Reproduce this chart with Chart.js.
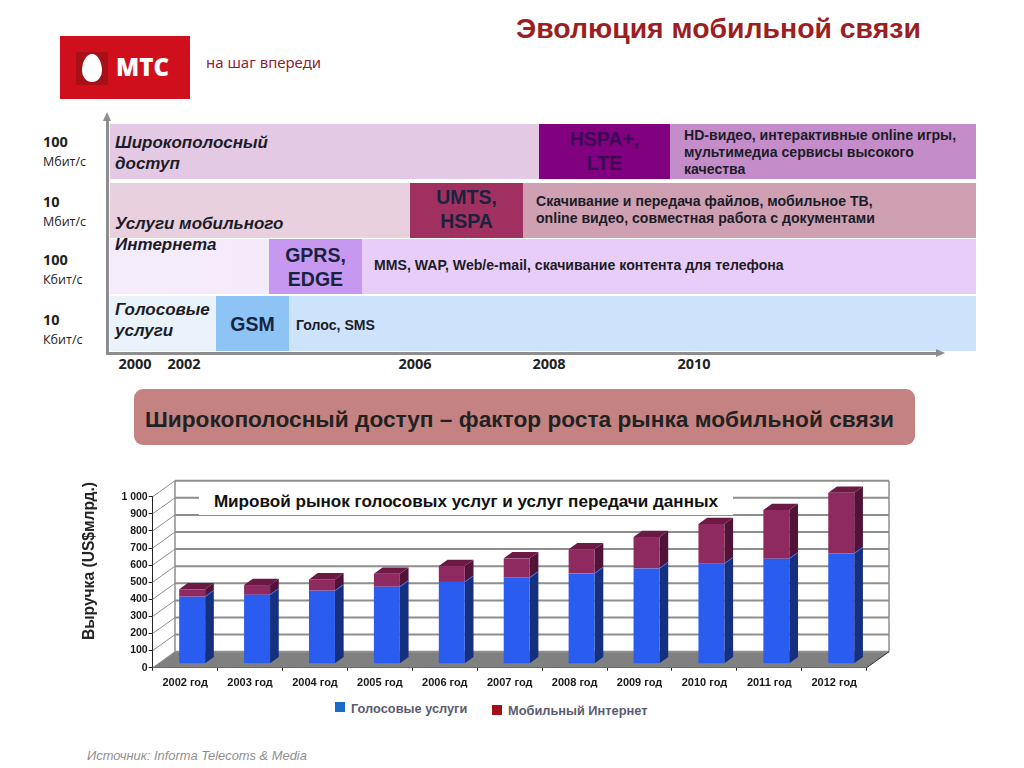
<!DOCTYPE html>
<html lang="ru">
<head>
<meta charset="utf-8">
<title>Эволюция мобильной связи</title>
<script src="https://cdn.jsdelivr.net/npm/chart.js@4"></script>
<style>
html,body{margin:0;padding:0;background:#fff;width:1024px;height:768px;overflow:hidden;}
body{position:relative;font-family:"Liberation Sans",Arial,sans-serif;color:#17233f;}
.abs{position:absolute;white-space:nowrap;}
#title{left:516px;top:12px;font-size:28.4px;font-weight:bold;color:#9b1f1f;line-height:32px;}
#logo{left:60px;top:36px;width:130px;height:63px;background:#cf0f1c;}
#logoSq{left:76px;top:52px;width:32px;height:33px;background:#a81018;}
#egg{left:82px;top:54px;width:20px;height:28px;background:#fff;border-radius:50% 50% 50% 50% / 60% 60% 40% 40%;}
#logoTxt{left:116px;top:53px;font-size:24px;line-height:28px;font-weight:800;color:#fff;font-family:"Open Sans";}
#slogan{left:206px;top:52px;font-size:15px;line-height:20px;color:#8f1f35;font-family:"Noto Sans";}
.row{position:absolute;left:110px;width:866px;}
#r0{top:124px;height:55px;background:#e3c9e3;}
#r1{top:183px;height:55px;background:#e8d0de;}
#r2{top:239px;height:55px;background:linear-gradient(90deg,#f5ecfb,#efe2f9);}
#r3{top:296px;height:55px;background:linear-gradient(90deg,#eaf3fb,#e3effa);}
.box{position:absolute;text-align:center;font-weight:bold;font-size:19.5px;line-height:24px;color:#17233f;box-sizing:border-box;white-space:pre-line;}
.fill{position:absolute;}
.desc{position:absolute;font-weight:bold;font-size:14.1px;line-height:17px;color:#1c1c28;white-space:pre-line;}
.svc{position:absolute;left:115px;font-weight:bold;font-style:italic;font-size:17px;line-height:21px;color:#1c1c28;white-space:pre-line;}
.spd{position:absolute;left:43px;font-family:"Open Sans";font-size:12.5px;line-height:19px;color:#222;white-space:pre-line;}
.spd b{font-size:14.5px;}
.yr{position:absolute;top:354px;font-family:"Open Sans";font-weight:bold;font-size:14.5px;line-height:19px;color:#222;transform:translateX(-50%);}
#axV{left:106px;top:120px;width:3px;height:234px;background:#8d8d8d;}
#axH{left:106px;top:352px;width:832px;height:3px;background:#8d8d8d;}
#arU{left:103px;top:112px;border-left:4.5px solid transparent;border-right:4.5px solid transparent;border-bottom:9px solid #8d8d8d;}
#arR{left:936px;top:349px;border-top:4.5px solid transparent;border-bottom:4.5px solid transparent;border-left:9px solid #8d8d8d;}
#banner{left:134px;top:389px;width:781px;height:56px;border-radius:9px;background:#c58282;}
#bannerTxt{left:145px;top:405px;font-size:22.7px;line-height:28px;font-weight:bold;color:#222;}
#chartBox{position:absolute;left:70px;top:470px;width:830px;height:230px;}
#chartTitle{left:199px;top:489px;width:534px;height:26px;background:#fff;text-align:center;font-size:17.1px;line-height:25px;font-weight:bold;color:#111;}
#yTitle{left:89px;top:561px;font-size:15.6px;font-weight:bold;color:#222;transform:translate(-50%,-50%) rotate(-90deg);}
.lg{position:absolute;width:10px;height:10px;}
.lgT{position:absolute;font-size:12.8px;line-height:15px;font-weight:bold;color:#5b5b70;}
#source{left:87px;top:748px;font-size:12.9px;line-height:16px;font-style:italic;color:#8f8f8f;}
</style>
</head>
<body>
<div id="title" class="abs"></div>

<div id="logo" class="abs"></div>
<div id="logoSq" class="abs"></div>
<div id="egg" class="abs"></div>
<div id="logoTxt" class="abs">МТС</div>
<div id="slogan" class="abs">на шаг впереди</div>

<div class="row" id="r0"></div>
<div class="row" id="r1"></div>
<div class="row" id="r2"></div>
<div class="row" id="r3"></div>

<div class="fill" style="left:670px;top:124px;width:306px;height:55px;background:#c48cc8"></div>
<div class="fill" style="left:523px;top:183px;width:453px;height:55px;background:#cfa0b2"></div>
<div class="fill" style="left:362px;top:239px;width:614px;height:55px;background:#e8cdf8"></div>
<div class="fill" style="left:289px;top:296px;width:687px;height:55px;background:#cce3fb"></div>

<div class="box" id="t0" style="left:539px;top:124px;width:131px;height:55px;background:#800080;color:#3b0a52;padding-top:3px"></div>
<div class="box" id="t1" style="left:410px;top:183px;width:113px;height:55px;background:#a0305f;padding-top:2px"></div>
<div class="box" id="t2" style="left:269px;top:239px;width:93px;height:55px;background:#c798f0;padding-top:4px"></div>
<div class="box" id="t3" style="left:216px;top:296px;width:73px;height:55px;background:#8ec4f5;padding-top:16px"></div>

<div class="svc" id="s0" style="top:132px"></div>
<div class="svc" id="s1" style="top:213px"></div>
<div class="svc" id="s2" style="top:299px"></div>

<div class="desc" id="d0" style="left:684px;top:127px"></div>
<div class="desc" id="d1" style="left:536px;top:193px"></div>
<div class="desc" id="d2" style="left:374px;top:257px"></div>
<div class="desc" id="d3" style="left:296px;top:317px"></div>

<div class="spd" id="sp0" style="top:132px"></div>
<div class="spd" id="sp1" style="top:192px"></div>
<div class="spd" id="sp2" style="top:250px"></div>
<div class="spd" id="sp3" style="top:310px"></div>

<div id="axV" class="abs"></div>
<div id="axH" class="abs"></div>
<div id="arU" class="abs"></div>
<div id="arR" class="abs"></div>

<div class="yr" id="y0" style="left:135px"></div>
<div class="yr" id="y1" style="left:184px"></div>
<div class="yr" id="y2" style="left:415px"></div>
<div class="yr" id="y3" style="left:549px"></div>
<div class="yr" id="y4" style="left:694px"></div>

<div id="banner" class="abs"></div>
<div id="bannerTxt" class="abs"></div>

<div id="chartBox"><canvas id="grafik" width="830" height="230"></canvas></div>
<div id="chartTitle" class="abs"></div>
<div id="yTitle" class="abs"></div>

<div class="lg" style="left:335px;top:702px;background:#1a6cc8"></div>
<div class="lgT" id="lg0" style="left:351px;top:701px"></div>
<div class="lg" style="left:492px;top:705px;background:#a3101c"></div>
<div class="lgT" id="lg1" style="left:508px;top:703px"></div>

<div id="source" class="abs"></div>

<script>
// ======================================
// Данные
// ======================================

const zagolovok = "Эволюция мобильной связи";
const skorosti = ["<b>100</b>\nМбит/с", "<b>10</b>\nМбит/с", "<b>100</b>\nКбит/с", "<b>10</b>\nКбит/с"];
const gody = ["2000", "2002", "2006", "2008", "2010"];
const tehnologii = ["HSPA+,\nLTE", "UMTS,\nHSPA", "GPRS,\nEDGE", "GSM"];
const uslugi = ["Широкополосный\nдоступ", "Услуги мобильного\nИнтернета", "Голосовые\nуслуги"];
const opisaniya = [
    "HD-видео, интерактивные online игры,\nмультимедиа сервисы высокого\nкачества",
    "Скачивание и передача файлов, мобильное ТВ,\nonline видео, совместная работа с документами",
    "MMS, WAP, Web/e-mail, скачивание контента для телефона",
    "Голос, SMS"
];
const banner = "Широкополосный доступ – фактор роста рынка мобильной связи";
const nazvanieGrafika = "Мировой рынок голосовых услуг и услуг передачи данных";
const osY = "Выручка (US$млрд.)";
const istochnik = "Источник: Informa Telecoms & Media";

const kategorii = ["2002 год", "2003 год", "2004 год", "2005 год", "2006 год", "2007 год", "2008 год", "2009 год", "2010 год", "2011 год", "2012 год"];
const golos = [392, 403, 427, 450, 478, 503, 528, 557, 585, 614, 645];
const internet = [43, 57, 66, 76, 93, 113, 141, 184, 232, 285, 355];
const nazvaniyaRyadov = ["Голосовые услуги", "Мобильный Интернет"];
const metkiY = ["0", "100", "200", "300", "400", "500", "600", "700", "800", "900", "1 000"];

// ======================================
// Текст верхней схемы
// ======================================

function tekst(id, znachenie) {
    document.getElementById(id).innerHTML = znachenie;
}

tekst("title", zagolovok);
tekst("bannerTxt", banner);
tekst("chartTitle", nazvanieGrafika);
tekst("yTitle", osY);
tekst("source", istochnik.replace("&", "&amp;"));
skorosti.forEach((t, i) => tekst("sp" + i, t));
gody.forEach((t, i) => tekst("y" + i, t));
tehnologii.forEach((t, i) => tekst("t" + i, t));
uslugi.forEach((t, i) => tekst("s" + i, t));
opisaniya.forEach((t, i) => tekst("d" + i, t));
nazvaniyaRyadov.forEach((t, i) => tekst("lg" + i, t));

// ======================================
// Объём: пол, стена и грани столбцов
// ======================================

const glubX = 22.3, glubY = -16;        // сдвиг задней стены
const sdvigX = 7, sdvigY = -4;          // столбцы стоят в середине пола
const granX = 8.7, granY = -6.3;        // глубина столбца
const bokovye = ["#14307e", "#521338"];
const verhnie = ["#3f74f5", "#6a1a45"];

function mnogougolnik(ctx, tochki, cvet) {
    ctx.fillStyle = cvet;
    ctx.beginPath();
    tochki.forEach((p, i) => i ? ctx.lineTo(p[0], p[1]) : ctx.moveTo(p[0], p[1]));
    ctx.closePath();
    ctx.fill();
}

const obem = {
    id: "obem",
    beforeDatasetsDraw(chart) {
        const ctx = chart.ctx, a = chart.chartArea, y = chart.scales.y;
        ctx.save();
        // пол
        mnogougolnik(ctx, [[a.left, a.bottom], [a.right, a.bottom], [a.right + glubX, a.bottom + glubY], [a.left + glubX, a.bottom + glubY]], "#808080");
        // стена и линии сетки
        ctx.strokeStyle = "#8e8e8e";
        y.ticks.forEach(t => {
            const py = y.getPixelForValue(t.value);
            ctx.lineWidth = 1;
            ctx.beginPath();
            ctx.moveTo(a.left, py);
            ctx.lineTo(a.left + glubX, py + glubY);
            ctx.stroke();
            ctx.lineWidth = 2;
            ctx.beginPath();
            ctx.moveTo(a.left + glubX, py + glubY);
            ctx.lineTo(a.right + glubX, py + glubY);
            ctx.stroke();
        });
        ctx.lineWidth = 1.5;
        ctx.beginPath();
        ctx.moveTo(a.left + glubX, a.top + glubY);
        ctx.lineTo(a.left + glubX, a.bottom + glubY);
        ctx.moveTo(a.right + glubX, a.top + glubY);
        ctx.lineTo(a.right + glubX, a.bottom + glubY);
        ctx.stroke();
        // правый край пола
        ctx.strokeStyle = "#333";
        ctx.lineWidth = 1;
        ctx.beginPath();
        ctx.moveTo(a.right, a.bottom);
        ctx.lineTo(a.right + glubX, a.bottom + glubY);
        ctx.stroke();
        ctx.restore();
    },
    beforeDatasetDraw(chart, args) {
        const ctx = chart.ctx, i = args.index;
        ctx.save();
        ctx.translate(sdvigX, sdvigY);
        args.meta.data.forEach(bar => {
            const p = bar.getProps(["x", "y", "base", "width"], true);
            const r = p.x + p.width / 2, l = p.x - p.width / 2;
            mnogougolnik(ctx, [[r, p.y], [r + granX, p.y + granY], [r + granX, p.base + granY], [r, p.base]], bokovye[i]);
            if (i === 1) {
                // крышка видна только у верхнего ряда
                mnogougolnik(ctx, [[l, p.y], [l + granX, p.y + granY], [r + granX, p.y + granY], [r, p.y]], verhnie[i]);
            } else {
                // светлый стык рядов на боковой грани
                ctx.strokeStyle = verhnie[0];
                ctx.lineWidth = 1;
                ctx.beginPath();
                ctx.moveTo(r, p.y);
                ctx.lineTo(r + granX, p.y + granY);
                ctx.stroke();
            }
        });
    },
    afterDatasetDraw(chart) {
        chart.ctx.restore();
    }
};

// ======================================
// График выручки
// ======================================

const shriftX = { family: "'Liberation Sans'", size: 11, weight: "bold" };
const shriftY = { family: "'Liberation Sans'", size: 10.5, weight: "bold" };

new Chart(document.getElementById("grafik"), {
    type: "bar",
    data: {
        labels: kategorii,
        datasets: [
            { label: nazvaniyaRyadov[0], data: golos, backgroundColor: "#2b5cf0", clip: false },
            { label: nazvaniyaRyadov[1], data: internet, backgroundColor: "#8e2a60", clip: false }
        ]
    },
    options: {
        responsive: false,
        animation: false,
        layout: { padding: { left: 0, right: 33.3, top: 26.7, bottom: 12.3 } },
        plugins: { legend: { display: false }, tooltip: { enabled: false } },
        datasets: { bar: { barPercentage: 0.4, categoryPercentage: 1 } },
        scales: {
            x: {
                stacked: true,
                afterFit(s) { s.height = 20; },
                border: { color: "#222", width: 1 },
                grid: { drawOnChartArea: false, tickLength: 3, color: "#222" },
                ticks: { font: shriftX, color: "#1a1a1a", padding: 6, maxRotation: 0, autoSkip: false }
            },
            y: {
                stacked: true,
                min: 0,
                max: 1000,
                afterFit(s) { s.width = 82.7; },
                border: { color: "#222", width: 1 },
                grid: { drawOnChartArea: false, tickLength: 4, color: "#222" },
                ticks: {
                    stepSize: 100,
                    font: shriftY,
                    color: "#1a1a1a",
                    padding: 1,
                    callback: (v, i) => metkiY[i]
                }
            }
        }
    },
    plugins: [obem]
});
</script>
</body>
</html>
